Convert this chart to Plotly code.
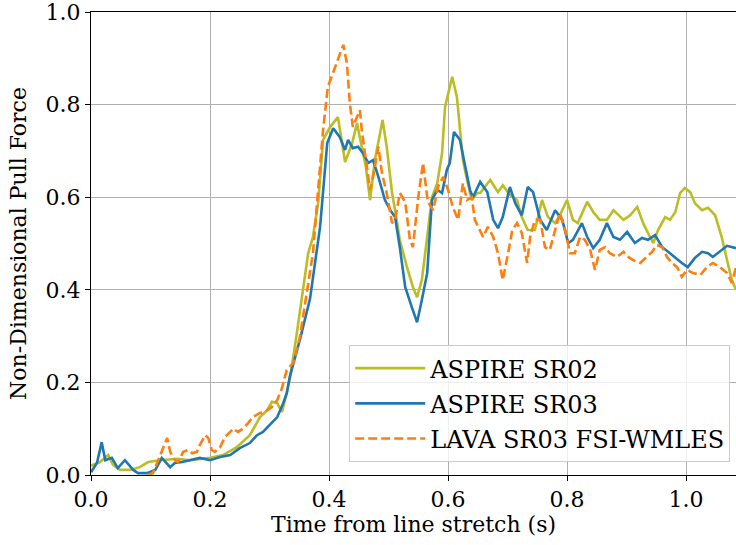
import plotly.graph_objects as go

# ASPIRE SR02
sr02_t = [0.000, 0.015, 0.029, 0.037, 0.049, 0.066, 0.082, 0.096, 0.116, 0.145,
          0.166, 0.200, 0.222, 0.245, 0.267, 0.276, 0.284, 0.296, 0.304, 0.313,
          0.321, 0.329, 0.334, 0.346, 0.355, 0.365, 0.373, 0.382, 0.390, 0.402,
          0.415, 0.427, 0.439, 0.447, 0.455, 0.462, 0.469, 0.477, 0.486, 0.490,
          0.497, 0.506, 0.511, 0.519, 0.531, 0.541, 0.548, 0.556, 0.565, 0.573,
          0.582, 0.590, 0.595, 0.607, 0.615, 0.620, 0.625, 0.632, 0.640, 0.649,
          0.654, 0.671, 0.684, 0.692, 0.704, 0.716, 0.724, 0.734, 0.746, 0.758,
          0.768, 0.780, 0.788, 0.800, 0.810, 0.818, 0.834, 0.844, 0.855, 0.867,
          0.878, 0.895, 0.906, 0.918, 0.928, 0.936, 0.945, 0.953, 0.965, 0.973,
          0.982, 0.990, 0.998, 1.007, 1.015, 1.027, 1.037, 1.049, 1.060, 1.069,
          1.077, 1.084]
sr02_f = [0.020, 0.028, 0.043, 0.022, 0.011, 0.011, 0.017, 0.028, 0.032, 0.035,
          0.032, 0.037, 0.043, 0.060, 0.086, 0.108, 0.125, 0.140, 0.158, 0.155,
          0.136, 0.177, 0.205, 0.307, 0.393, 0.479, 0.514, 0.590, 0.724, 0.752,
          0.773, 0.676, 0.717, 0.760, 0.709, 0.665, 0.594, 0.680, 0.739, 0.767,
          0.709, 0.609, 0.572, 0.508, 0.449, 0.406, 0.384, 0.421, 0.514, 0.600,
          0.631, 0.695, 0.795, 0.860, 0.816, 0.745, 0.680, 0.637, 0.594, 0.609,
          0.609, 0.637, 0.611, 0.626, 0.605, 0.594, 0.557, 0.529, 0.529, 0.594,
          0.557, 0.544, 0.561, 0.594, 0.551, 0.544, 0.590, 0.568, 0.551, 0.551,
          0.572, 0.551, 0.561, 0.579, 0.544, 0.523, 0.501, 0.529, 0.557, 0.551,
          0.568, 0.609, 0.620, 0.611, 0.587, 0.572, 0.577, 0.561, 0.514, 0.464,
          0.421, 0.400]

# ASPIRE SR03
sr03_t = [0.000, 0.010, 0.018, 0.024, 0.035, 0.045, 0.057, 0.071, 0.079, 0.094,
          0.108, 0.119, 0.133, 0.141, 0.153, 0.166, 0.183, 0.200, 0.217, 0.234,
          0.250, 0.267, 0.279, 0.289, 0.304, 0.313, 0.323, 0.329, 0.334, 0.351,
          0.368, 0.385, 0.397, 0.407, 0.418, 0.427, 0.432, 0.440, 0.449, 0.457,
          0.466, 0.474, 0.483, 0.494, 0.503, 0.511, 0.519, 0.528, 0.539, 0.548,
          0.556, 0.565, 0.573, 0.582, 0.590, 0.598, 0.603, 0.610, 0.620, 0.629,
          0.637, 0.642, 0.654, 0.666, 0.676, 0.684, 0.692, 0.704, 0.713, 0.724,
          0.734, 0.743, 0.755, 0.766, 0.780, 0.792, 0.802, 0.810, 0.825, 0.834,
          0.844, 0.855, 0.867, 0.878, 0.889, 0.901, 0.914, 0.926, 0.936, 0.948,
          0.960, 0.970, 0.982, 0.993, 1.003, 1.015, 1.027, 1.037, 1.045, 1.057,
          1.069, 1.084]
sr03_f = [0.006, 0.026, 0.071, 0.032, 0.037, 0.015, 0.032, 0.011, 0.004, 0.004,
          0.011, 0.037, 0.017, 0.026, 0.028, 0.032, 0.037, 0.032, 0.039, 0.043,
          0.058, 0.069, 0.086, 0.093, 0.112, 0.125, 0.155, 0.177, 0.212, 0.292,
          0.380, 0.536, 0.717, 0.749, 0.730, 0.702, 0.724, 0.706, 0.709, 0.695,
          0.674, 0.680, 0.644, 0.594, 0.572, 0.557, 0.492, 0.406, 0.363, 0.330,
          0.378, 0.436, 0.594, 0.616, 0.609, 0.659, 0.674, 0.741, 0.724, 0.665,
          0.615, 0.600, 0.633, 0.611, 0.551, 0.533, 0.557, 0.622, 0.587, 0.561,
          0.622, 0.611, 0.551, 0.529, 0.572, 0.551, 0.501, 0.508, 0.544, 0.514,
          0.490, 0.508, 0.544, 0.514, 0.508, 0.525, 0.501, 0.512, 0.508, 0.518,
          0.492, 0.482, 0.469, 0.458, 0.449, 0.469, 0.482, 0.479, 0.471, 0.482,
          0.495, 0.490]

# LAVA SR03 FSI-WMLES
lava_t = [0.095, 0.104, 0.113, 0.121, 0.128, 0.133, 0.141, 0.146, 0.155, 0.163,
          0.170, 0.178, 0.183, 0.192, 0.197, 0.203, 0.208, 0.217, 0.225, 0.234,
          0.239, 0.247, 0.255, 0.264, 0.272, 0.284, 0.292, 0.304, 0.313, 0.321,
          0.329, 0.340, 0.351, 0.373, 0.390, 0.398, 0.407, 0.415, 0.424, 0.430,
          0.435, 0.440, 0.452, 0.455, 0.463, 0.469, 0.474, 0.483, 0.489, 0.497,
          0.506, 0.511, 0.519, 0.528, 0.536, 0.541, 0.550, 0.558, 0.566, 0.575,
          0.583, 0.592, 0.600, 0.608, 0.617, 0.625, 0.632, 0.640, 0.645, 0.654,
          0.659, 0.667, 0.676, 0.684, 0.692, 0.701, 0.708, 0.716, 0.724, 0.733,
          0.738, 0.746, 0.755, 0.763, 0.771, 0.780, 0.788, 0.797, 0.805, 0.813,
          0.822, 0.830, 0.839, 0.847, 0.855, 0.864, 0.872, 0.884, 0.895, 0.903,
          0.911, 0.923, 0.934, 0.943, 0.951, 0.960, 0.968, 0.976, 0.985, 0.993,
          1.002, 1.012, 1.024, 1.035, 1.045, 1.057, 1.069, 1.077, 1.084]
lava_f = [0.000, 0.004, 0.032, 0.060, 0.080, 0.050, 0.032, 0.028, 0.050, 0.054,
          0.047, 0.050, 0.065, 0.086, 0.080, 0.054, 0.050, 0.060, 0.082, 0.093,
          0.100, 0.093, 0.100, 0.112, 0.125, 0.134, 0.136, 0.147, 0.162, 0.188,
          0.227, 0.242, 0.298, 0.479, 0.745, 0.838, 0.868, 0.896, 0.929, 0.890,
          0.803, 0.752, 0.788, 0.745, 0.674, 0.616, 0.644, 0.709, 0.652, 0.609,
          0.544, 0.551, 0.609, 0.590, 0.508, 0.492, 0.600, 0.674, 0.590, 0.572,
          0.622, 0.644, 0.616, 0.579, 0.551, 0.630, 0.594, 0.600, 0.551, 0.529,
          0.514, 0.536, 0.514, 0.479, 0.421, 0.479, 0.529, 0.544, 0.523, 0.458,
          0.514, 0.551, 0.551, 0.492, 0.486, 0.529, 0.566, 0.529, 0.479, 0.479,
          0.514, 0.508, 0.486, 0.443, 0.486, 0.492, 0.479, 0.471, 0.482, 0.471,
          0.464, 0.458, 0.471, 0.482, 0.497, 0.492, 0.471, 0.458, 0.449, 0.428,
          0.443, 0.436, 0.432, 0.449, 0.458, 0.449, 0.436, 0.415, 0.449]

x_ticks = [0.0, 0.2, 0.4, 0.6, 0.8, 1.0]
y_ticks = [0.0, 0.2, 0.4, 0.6, 0.8, 1.0]

font_family = "DejaVu Serif"
fs = 22

fig = go.Figure()
fig.add_trace(go.Scatter(x=sr02_t, y=sr02_f, mode="lines", name="ASPIRE SR02",
                         legendgroup="a", line=dict(color="#bcbd22", width=2.6)))
fig.add_trace(go.Scatter(x=sr03_t, y=sr03_f, mode="lines", name="ASPIRE SR03",
                         legendgroup="b", line=dict(color="#1f77b4", width=2.6)))
fig.add_trace(go.Scatter(x=lava_t, y=lava_f, mode="lines", name="LAVA SR03 FSI-WMLES",
                         legendgroup="c",
                         line=dict(color="#ff7f0e", width=2.6, dash="9px,4px")))

axis_common = dict(showgrid=True, gridcolor="#b0b0b0", gridwidth=1,
                   showline=True, linecolor="black", linewidth=1,
                   ticks="outside", ticklen=5, tickcolor="black",
                   tickfont=dict(family=font_family, size=fs, color="black"),
                   zeroline=False, tickformat=".1f", automargin=False,
                   ticklabeloverflow="allow")

fig.update_xaxes(range=[0, 1.084], tickvals=x_ticks, mirror=True,
                 title=dict(text="Time from line stretch (s)", standoff=4,
                            font=dict(family=font_family, size=fs, color="black")),
                 **axis_common)
fig.update_yaxes(range=[0, 1.0], tickvals=y_ticks,
                 title=dict(text="Non-Dimensional Pull Force", standoff=12,
                            font=dict(family=font_family, size=fs, color="black")),
                 **axis_common)

fig.update_layout(
    width=736, height=545,
    margin=dict(l=91, r=0, t=12, b=70),
    plot_bgcolor="white", paper_bgcolor="white",
    font=dict(family=font_family, size=fs, color="black"),
    legend=dict(x=0.991, y=0.028, xanchor="right", yanchor="bottom",
                bgcolor="rgba(255,255,255,0.8)", bordercolor="#cccccc", borderwidth=1,
                tracegroupgap=1, itemwidth=70, font=dict(family=font_family, size=24)),
)

# drop the default 8px body margin so the figure sits at the window corner
fig.write_html("out.html", config={"displayModeBar": False},
               post_script="document.body.style.margin='0';")
